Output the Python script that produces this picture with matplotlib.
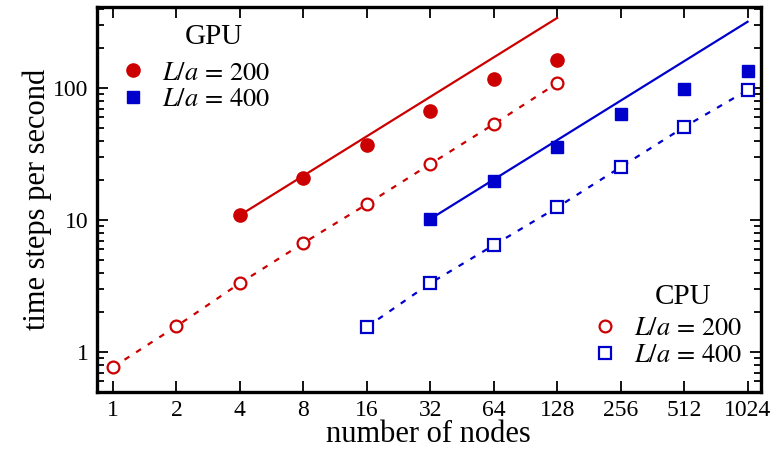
import numpy as np
import matplotlib
matplotlib.use("Agg")
import matplotlib.pyplot as plt
import matplotlib.ticker as ticker
from matplotlib.lines import Line2D

RED  = "#cc0000"
BLUE = "#0000cc"

plt.rcParams.update({
    "font.family": "serif",
    "font.serif": ["Liberation Serif", "DejaVu Serif"],
    "mathtext.fontset": "stix",
    "xtick.direction": "in",
    "ytick.direction": "in",
    "xtick.top": True,
    "ytick.right": True,
})

# measured throughput (time steps per second) vs number of nodes
gpu200_nodes = [4, 8, 16, 32, 64, 128]
gpu200_tps   = [10.9, 20.8, 37.0, 67.0, 117.0, 163.0]
gpu400_nodes = [32, 64, 128, 256, 512, 1024]
gpu400_tps   = [10.2, 19.7, 35.7, 63.5, 98.0, 134.0]
cpu200_nodes = [1, 2, 4, 8, 16, 32, 64, 128]
cpu200_tps   = [0.77, 1.57, 3.33, 6.7, 13.2, 26.6, 53.3, 109.0]
cpu400_nodes = [16, 32, 64, 128, 256, 512, 1024]
cpu400_tps   = [1.55, 3.33, 6.46, 12.5, 25.2, 50.7, 96.6]

# ideal (linear) scaling lines for GPU runs
ideal200_nodes = [4, 128]
ideal200_tps   = [10.9, 340.0]
ideal400_nodes = [32, 1024]
ideal400_tps   = [10.2, 318.0]

xticks = [1, 2, 4, 8, 16, 32, 64, 128, 256, 512, 1024]

fig = plt.figure(figsize=(7.77, 4.5), dpi=100)
ax = fig.add_axes([0.1248, 0.129, 0.854, 0.855])

dash = (0, (2.6, 3.6))
ax.plot(ideal200_nodes, ideal200_tps, color=RED, lw=1.6)
ax.plot(ideal400_nodes, ideal400_tps, color=BLUE, lw=1.6)
ax.plot(cpu200_nodes, cpu200_tps, color=RED, lw=1.6, ls=dash)
ax.plot(cpu400_nodes, cpu400_tps, color=BLUE, lw=1.6, ls=dash)

ax.plot(gpu200_nodes, gpu200_tps, "o", color=RED, ms=9.5, ls="none")
ax.plot(gpu400_nodes, gpu400_tps, "s", color=BLUE, ms=8, ls="none")
ax.plot(cpu200_nodes, cpu200_tps, "o", mfc="white", mec=RED, mew=1.6, ms=8.5, ls="none")
ax.plot(cpu400_nodes, cpu400_tps, "s", mfc="white", mec=BLUE, mew=1.6, ms=8, ls="none")

ax.set_xscale("log", base=2)
ax.set_yscale("log")
ax.set_xlim(0.84, 1180)
ax.set_ylim(0.5, 410)
ax.xaxis.set_major_locator(ticker.FixedLocator(xticks))
ax.xaxis.set_major_formatter(ticker.FixedFormatter([str(t) for t in xticks]))
ax.xaxis.set_minor_locator(ticker.NullLocator())
ax.yaxis.set_major_locator(ticker.FixedLocator([1, 10, 100]))
ax.yaxis.set_major_formatter(ticker.FixedFormatter(["1", "10", "100"]))
ax.yaxis.set_minor_locator(ticker.LogLocator(base=10, subs=np.arange(2, 10)))
ax.yaxis.set_minor_formatter(ticker.NullFormatter())

ax.tick_params(which="major", length=8, width=1.3, labelsize=17, pad=6)
ax.tick_params(which="minor", length=5, width=1.3)
for s in ax.spines.values():
    s.set_linewidth(2.4)

ax.set_xlabel("number of nodes", fontsize=22, labelpad=-1)
ax.set_ylabel("time steps per second", fontsize=22, labelpad=1)

gpu_handles = [
    Line2D([], [], marker="o", color=RED, ms=9.5, ls="none"),
    Line2D([], [], marker="s", color=BLUE, ms=8, ls="none"),
]
cpu_handles = [
    Line2D([], [], marker="o", mfc="white", mec=RED, mew=1.6, ms=8.5, ls="none"),
    Line2D([], [], marker="s", mfc="white", mec=BLUE, mew=1.6, ms=8, ls="none"),
]
labels = [r"$L/a\,=\,200$", r"$L/a\,=\,400$"]

leg_kw = dict(frameon=False, fontsize=19, handlelength=1.0, handletextpad=0.6,
              labelspacing=0.12, borderaxespad=0, borderpad=0)
leg1 = ax.legend(gpu_handles, labels, loc="upper left",
                 bbox_to_anchor=(0.035, 0.86), **leg_kw)
ax.add_artist(leg1)
ax.legend(cpu_handles, labels, loc="upper left",
          bbox_to_anchor=(0.745, 0.195), **leg_kw)
ax.text(0.176, 0.922, "GPU", transform=ax.transAxes, fontsize=21,
        ha="center", va="center")
ax.text(0.8825, 0.247, "CPU", transform=ax.transAxes, fontsize=21,
        ha="center", va="center")

fig.savefig("out.png", dpi=100)
